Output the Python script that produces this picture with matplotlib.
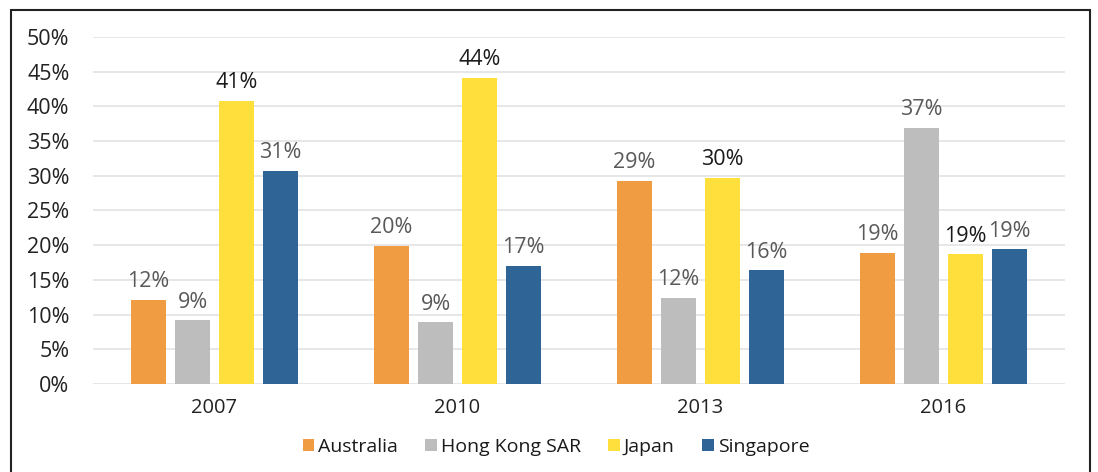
import matplotlib.pyplot as plt
import numpy as np
from matplotlib.patches import Rectangle
from matplotlib.ticker import PercentFormatter

plt.rcParams['font.family'] = ['Open Sans', 'DejaVu Sans']

years = ['2007', '2010', '2013', '2016']
series = ['Australia', 'Hong Kong SAR', 'Japan', 'Singapore']
australia = [12.1, 19.9, 29.3, 18.9]
hong_kong = [9.2, 8.9, 12.4, 36.9]
japan = [40.8, 44.1, 29.7, 18.7]
singapore = [30.7, 17.0, 16.4, 19.4]
values = [australia, hong_kong, japan, singapore]
colors = ['#F09C42', '#BDBDBD', '#FFDF3C', '#2E6496']
label_colors = ['#595959', '#595959', '#1a1a1a', '#595959']

fig = plt.figure(figsize=(10.98, 4.72), dpi=100)
ax = fig.add_axes([93 / 1098, 88 / 472, 972 / 1098, 347 / 472])

x = np.arange(len(years))
step = 0.181
width = 0.144
for i, (name, vals) in enumerate(zip(series, values)):
    pos = x + (i - 1.5) * step
    ax.bar(pos, vals, width, color=colors[i], label=name, zorder=3)
    for px, v in zip(pos, vals):
        ax.text(px, v + 1.1, f'{round(v):.0f}%', ha='center', va='bottom',
                fontsize=15.5, color=label_colors[i])

ax.set_xlim(-0.5, 3.5)
ax.set_ylim(0, 50)
ax.set_yticks(np.arange(0, 51, 5))
ax.yaxis.set_major_formatter(PercentFormatter(decimals=0))
ax.set_xticks(x)
ax.set_xticklabels(years)
ax.tick_params(axis='both', length=0, colors='#222222')
ax.tick_params(axis='x', pad=10, labelsize=14.5)
ax.tick_params(axis='y', pad=17, labelsize=15.5)
ax.grid(axis='y', color='#E3E3E3', linewidth=1.2, zorder=0)
for s in ax.spines.values():
    s.set_visible(False)

fig.legend(loc='center', bbox_to_anchor=(556 / 1098, 1 - 447 / 472), ncol=4,
           frameon=False, fontsize=14, handlelength=0.6, handleheight=0.6,
           handletextpad=0.2, columnspacing=1.4, labelcolor='#1a1a1a')

fig.patches.append(Rectangle((11 / 1098, -0.1), 1079 / 1098, 1.1 - 10 / 472,
                             transform=fig.transFigure, fill=False,
                             edgecolor='#222222', linewidth=1.5))

fig.savefig('out.png', dpi=100)
